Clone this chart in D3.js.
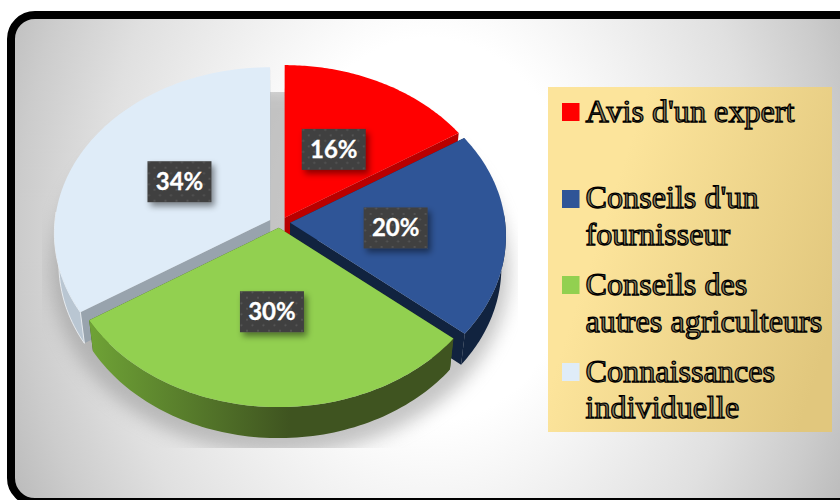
<!doctype html>
<html>
<head>
<meta charset="utf-8"/>
<title>Pie</title>
<script src="https://d3js.org/d3.v7.min.js"></script>
<style>
body { margin:0; background:#fff; }
svg { display:block; }
</style>
</head>
<body>
<script>
// data
var categories = ["Avis d'un expert", "Conseils d'un fournisseur", "Conseils des autres agriculteurs", "Connaissances individuelle"];
var values = [16, 20, 30, 34];
var legendLines = [["Avis d'un expert"], ["Conseils d'un", "fournisseur"], ["Conseils des", "autres agriculteurs"], ["Connaissances", "individuelle"]];
var topColors = ["#ff0000", "#2f5597", "#92d050", "#dfecf8"];
var cutColors = ["#b90000", "#11233f", "#3f5420", "#98a3ad"];
var wallColors = ["#b90000", "#11233f", "url(#greenWall)", "#b9c6d2"];

var W = 840, H = 500;
var cx = 279.5, cy = 222.5, rx = 215, ry = 165, persp = 0.08;
var explodeX = 0.05, explodeY = 0.032;
var depth = 31, depthScale = 0.98;

var svg = d3.select("body").append("svg").attr("width", W).attr("height", H);
var defs = svg.append("defs");

// elliptical background: wider than tall
var bg = defs.append("radialGradient").attr("id", "bg")
  .attr("gradientUnits", "userSpaceOnUse")
  .attr("cx", 0).attr("cy", 0).attr("r", 1)
  .attr("gradientTransform", "translate(430,230) scale(500,640)");
[[0.3, "#ffffff"], [0.66, "#e0e0e0"], [0.82, "#cccccc"], [0.95, "#b8b8b8"]].forEach(function(s) {
  bg.append("stop").attr("offset", s[0]).attr("stop-color", s[1]);
});

var lg = defs.append("linearGradient").attr("id", "legendFill")
  .attr("x1", 0).attr("y1", 0.3).attr("x2", 1).attr("y2", 0.7);
lg.append("stop").attr("offset", "0.2").attr("stop-color", "#fce49b");
lg.append("stop").attr("offset", "1").attr("stop-color", "#e1c77d");

var gw = defs.append("linearGradient").attr("id", "greenWall")
  .attr("gradientUnits", "userSpaceOnUse")
  .attr("x1", 88).attr("y1", 0).attr("x2", 290).attr("y2", 0);
gw.append("stop").attr("offset", "0").attr("stop-color", "#6fa336");
gw.append("stop").attr("offset", "1").attr("stop-color", "#3f5420");

defs.append("filter").attr("id", "groundBlur")
  .attr("x", "-20%").attr("y", "-20%").attr("width", "140%").attr("height", "140%")
  .append("feGaussianBlur").attr("stdDeviation", 9);

var ds = defs.append("filter").attr("id", "labelShadow")
  .attr("x", "-30%").attr("y", "-30%").attr("width", "160%").attr("height", "170%");
ds.append("feDropShadow").attr("dx", 3).attr("dy", 4).attr("stdDeviation", 3)
  .attr("flood-color", "#000").attr("flood-opacity", 0.45);

defs.append("clipPath").attr("id", "groundClip").append("rect")
  .attr("x", 42).attr("y", 92).attr("width", 476).attr("height", 356);

var dots = defs.append("pattern").attr("id", "dots")
  .attr("patternUnits", "userSpaceOnUse").attr("width", 11).attr("height", 11);
dots.append("rect").attr("width", 11).attr("height", 11).attr("fill", "#3f3f3f");
dots.append("circle").attr("cx", 2.5).attr("cy", 2.5).attr("r", 1.1).attr("fill", "#585858");
dots.append("circle").attr("cx", 8).attr("cy", 8).attr("r", 1.1).attr("fill", "#585858");

// frame
svg.append("rect").attr("x", 11).attr("y", 15).attr("width", 900).attr("height", 487)
  .attr("rx", 24).attr("fill", "url(#bg)").attr("stroke", "#000").attr("stroke-width", 8);

// ground shadow
svg.append("g").attr("clip-path", "url(#groundClip)")
  .append("ellipse").attr("cx", 280).attr("cy", 270).attr("rx", 229).attr("ry", 184)
  .attr("fill", "#8c8c8c").attr("opacity", 0.5).attr("filter", "url(#groundBlur)");

// pie
var pie = d3.pie().sort(null).value(function(d){ return d; });
var arcs = pie(values);

function scaleAt(Y) { return 1 / (1 + persp * Y); }

function apexOf(a) {
  var m = (a.startAngle + a.endAngle) / 2;
  return [cx + explodeX * rx * Math.sin(m), cy - explodeY * ry * Math.cos(m)];
}
function rimPoint(a, ang, r) {
  var o = apexOf(a), s = scaleAt(Math.cos(ang) * r);
  return [o[0] + Math.sin(ang) * r * rx * s, o[1] - Math.cos(ang) * r * ry * s];
}
function down(p) {
  return [cx + (p[0] - cx) * depthScale, p[1] + depth];
}
function rim(a) {
  var n = 80, pts = [];
  for (var i = 0; i <= n; i++) pts.push(rimPoint(a, a.startAngle + (a.endAngle - a.startAngle) * i / n, 1));
  return pts;
}
var line = d3.line();

function drawSlice(i) {
  var a = arcs[i], g = svg.append("g"), o = apexOf(a), pts = rim(a);
  var first = pts[0], last = pts[pts.length - 1];
  [first, last].forEach(function(p) {
    g.append("path").attr("d", line([o, p, down(p), down(o)]) + "Z").attr("fill", cutColors[i]);
  });
  // outer wall, only the part facing the viewer
  var front = pts.filter(function(p, k) { return Math.cos(a.startAngle + (a.endAngle - a.startAngle) * k / 80) < 0.05; });
  if (front.length > 1) {
    var wall = front.concat(front.map(down).reverse());
    g.append("path").attr("d", line(wall) + "Z").attr("fill", wallColors[i])
      .attr("stroke", i == 3 ? "#f2f6fa" : "none").attr("stroke-width", i == 3 ? 0.8 : 0);
  }
  g.append("path").attr("d", line([o].concat(pts)) + "Z").attr("fill", topColors[i]);
}
// back slices first
[0, 3, 1, 2].forEach(drawSlice);

// data labels
arcs.forEach(function(a, i) {
  var m = (a.startAngle + a.endAngle) / 2, c = rimPoint(a, m, 0.49);
  var g = svg.append("g").attr("transform", "translate(" + c[0] + "," + c[1] + ")");
  g.append("rect").attr("x", -32).attr("y", -20.5).attr("width", 64).attr("height", 41)
    .attr("fill", "url(#dots)").attr("filter", "url(#labelShadow)");
  g.append("text").attr("text-anchor", "middle").attr("y", 8.5)
    .attr("font-family", "Lato").attr("font-weight", 700).attr("font-size", 24)
    .attr("fill", "#fff").attr("stroke", "#fff").attr("stroke-width", 0.3).text(a.value + "%");
});

// legend
svg.append("rect").attr("x", 548).attr("y", 87).attr("width", 284).attr("height", 345)
  .attr("fill", "url(#legendFill)");
var swatchY = [103, 190, 276, 363];
var lineY = [[122], [208, 245], [295, 332], [382, 418]];
categories.forEach(function(c, i) {
  svg.append("rect").attr("x", 562).attr("y", swatchY[i]).attr("width", 17.5).attr("height", 18)
    .attr("fill", topColors[i]);
  legendLines[i].forEach(function(t, j) {
    svg.append("text").attr("x", 585.5).attr("y", lineY[i][j])
      .attr("font-family", "Liberation Serif").attr("font-size", 32.2)
      .attr("fill", "#8f8462").attr("stroke", "#000").attr("stroke-width", 1.25)
      .text(t);
  });
});
</script>
</body>
</html>
